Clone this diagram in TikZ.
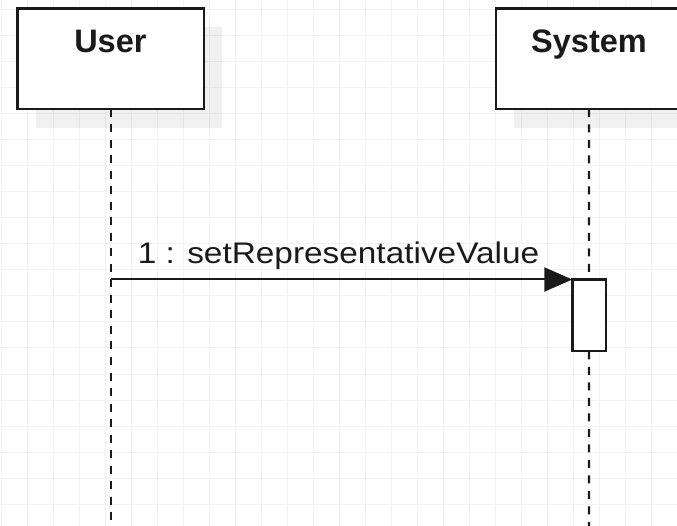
\documentclass[tikz,border=0pt]{standalone}
\usepackage{fontspec}
\setmainfont{Liberation Sans}
\usetikzlibrary{arrows.meta}
\definecolor{gridc}{HTML}{F2F2F2}
\definecolor{ink}{HTML}{1A1A1A}
\tikzset{
  gridline/.style={draw=gridc, line width=1pt},
  shadowbox/.style={fill=black, fill opacity=0.06, draw=none},
  actor/.style={draw=ink, fill=white, line width=2.5pt, minimum width=186.3pt, minimum height=100.3pt, inner sep=0pt, outer sep=0pt},
  title/.style={font=\bfseries\fontsize{32.5}{39}\selectfont, text=ink, inner sep=0pt, anchor=base},
  lifeline/.style={draw=ink, line width=2.2pt, dash pattern=on 8pt off 7.5pt},
  actbox/.style={draw=ink, fill=white, line width=2.4pt, minimum width=33.4pt, minimum height=71.8pt, inner sep=0pt, outer sep=0pt},
  msg/.style={draw=ink, line width=2pt, -{Triangle[length=28pt, width=24pt]}},
  lbl/.style={font=\fontsize{29.8}{36}\selectfont, text=ink, inner sep=0pt, anchor=base}
}
\begin{document}
\begin{tikzpicture}[x=1pt, y=-1pt]
\useasboundingbox (0,0) rectangle (677,526);
% grid
\foreach \k in {0,...,26} { \draw[gridline] ({1.5+26*\k},0) -- ({1.5+26*\k},526); }
\foreach \k in {0,...,19} { \draw[gridline] (0,{10+26*\k}) -- (677,{10+26*\k}); }
% shadows
\fill[shadowbox] (36,27.5) rectangle (222,128.5);
\fill[shadowbox] (514,27.5) rectangle (700,128.5);
% actors
\node[actor] (usr) at (110.6,58.85) {};
\node[actor] (sys) at (588.9,58.85) {};
\node[title] (usrt) at (110.4,53) {User};
\node[title] (syst) at (589,53) {System};
% activation
\node[actbox] (act) at (589,315.4) {};
% lifelines
\coordinate (uend) at (usr.south |- 0,526);
\coordinate (send) at (sys.south |- 0,526);
\draw[lifeline] (usr.south) -- (uend);
\draw[lifeline] (sys.south) -- (act.north);
\draw[lifeline] (act.south) -- (send);
\node[actbox] at (act) {};
% message
\draw[msg] (usr.south |- act.north) -- (act.north west);
\node[lbl] (m1) at (338.5,264) {\scalebox{1.12}[1]{1 : setRepresentativeValue}};
\end{tikzpicture}
\end{document}
